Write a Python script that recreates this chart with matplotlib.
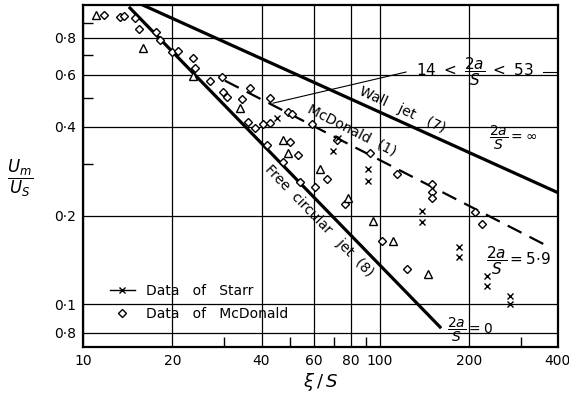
import numpy as np
import matplotlib.pyplot as plt
import matplotlib.transforms as mtransforms
from matplotlib.lines import Line2D

# McDonald's measurements (open diamonds)
mc_x = [11.8, 13.3, 13.8, 15.0, 15.5, 17.6, 18.2, 20.0, 20.9, 23.5, 23.9, 26.8,
        29.4, 29.7, 30.6, 34.4, 36.6, 36.0, 38.0, 42.7, 40.5, 42.7, 49.1, 50.7,
        59.2, 41.7, 49.9, 53.1, 47.3, 53.9, 66.5, 60.6, 71.9, 76.5, 92.9, 114.5,
        150.3, 150.3, 150.3, 102.0, 123.8, 210.0, 221.7]
mc_y = [0.957, 0.942, 0.949, 0.935, 0.858, 0.838, 0.788, 0.717, 0.723, 0.685, 0.633, 0.573,
        0.590, 0.526, 0.506, 0.498, 0.542, 0.416, 0.397, 0.502, 0.407, 0.413, 0.450, 0.440,
        0.410, 0.348, 0.356, 0.322, 0.303, 0.259, 0.265, 0.249, 0.362, 0.218, 0.327, 0.276,
        0.255, 0.241, 0.230, 0.164, 0.132, 0.205, 0.187]

# other runs (open triangles)
tri_x = [11.1, 15.9, 23.5, 33.9, 47.3, 49.1, 63.0, 78.3, 95.1, 111.1, 145.7]
tri_y = [0.957, 0.740, 0.595, 0.464, 0.362, 0.327, 0.287, 0.230, 0.191, 0.164, 0.127]

# Starr's measurements (crosses)
st_x = [45.1, 69.7, 72.5, 91.5, 91.5, 139.1, 139.1, 185.4, 185.4, 230.5, 230.5, 275.5, 275.5]
st_y = [0.429, 0.330, 0.367, 0.287, 0.261, 0.207, 0.190, 0.156, 0.145, 0.125, 0.115, 0.107, 0.100]

# theory lines (straight on log-log, given by end points)
wall_x = [15.9, 400]
wall_y = [1.034, 0.239]
free_x = [14.4, 160]
free_y = [1.01, 0.0838]
mcd_x = [30.1, 376]
mcd_y = [0.573, 0.156]

xticks = [10, 20, 40, 60, 80, 100, 200, 400]
xlabels = ['10', '20', '40', '60', '80', '100', '200', '400']
yticks = [0.8, 0.6, 0.4, 0.2, 0.1, 0.08]
ylabels = ['0·8', '0·6', '0·4', '0·2', '0·1', '0·8']

plt.rcParams['mathtext.fontset'] = 'dejavusans'

fig = plt.figure(figsize=(5.69, 3.94), dpi=100)
ax = fig.add_axes([0.1459, 0.1193, 0.8348, 0.868])
ax.set_xscale('log')
ax.set_yscale('log')
ax.set_xlim(10, 400)
ax.set_ylim(0.0717, 1.034)

ax.set_xticks(xticks)
ax.set_xticklabels(xlabels, fontsize=10)
ax.set_yticks(yticks)
ax.set_yticklabels(ylabels, fontsize=10)
ax.set_xticks([30, 50, 70, 90, 300], minor=True)
ax.set_yticks([0.9, 0.7, 0.5, 0.3], minor=True)
ax.xaxis.set_minor_formatter(plt.NullFormatter())
ax.yaxis.set_minor_formatter(plt.NullFormatter())
ax.tick_params(which='major', length=0, pad=5)
ax.tick_params(which='minor', direction='in', length=7, width=1, color='black')
ax.grid(True, which='major', color='black', lw=0.9)
for s in ax.spines.values():
    s.set_linewidth(1.6)

# keep the last x label inside the figure
last = ax.get_xticklabels()[-1]
last.set_ha('right')
last.set_transform(last.get_transform() + mtransforms.ScaledTranslation(9 / 72, 0, fig.dpi_scale_trans))

# theory curves
ax.plot(wall_x, wall_y, color='black', lw=2.3, zorder=3)
ax.plot(free_x, free_y, color='black', lw=2.3, zorder=3)
ax.plot(mcd_x, mcd_y, color='black', lw=1.6, dashes=(7, 4), zorder=3)

# data
ax.plot(mc_x, mc_y, 'D', ms=4.5, mfc='white', mec='black', mew=1, zorder=4)
ax.plot(tri_x, tri_y, '^', ms=5.5, mfc='white', mec='black', mew=1, zorder=4)
ax.plot(st_x, st_y, 'x', ms=5, color='black', mew=1, zorder=4)

# labels along the lines
ax.text(0.672, 0.693, 'Wall   jet   (7)', transform=ax.transAxes, rotation=-24.5,
        ha='center', va='center', fontsize=10)
ax.text(0.566, 0.635, 'McDonald  (1)', transform=ax.transAxes, rotation=-27,
        ha='center', va='center', fontsize=10)
ax.text(0.497, 0.368, 'Free  circular   jet  (8)', transform=ax.transAxes, rotation=-46,
        ha='center', va='center', fontsize=10)

ax.text(0.825, 0.804, r'$14\ <\ \dfrac{2a}{S}\ <\ 53$', transform=ax.transAxes,
        ha='center', va='center', fontsize=11)
ax.plot([0.400, 0.680], [0.713, 0.804], transform=ax.transAxes, color='black', lw=0.8)
ax.plot([0.968, 1.0], [0.804, 0.804], transform=ax.transAxes, color='black', lw=0.8)
ax.text(0.905, 0.611, r'$\dfrac{2a}{S}=\infty$', transform=ax.transAxes,
        ha='center', va='center', fontsize=10)
ax.text(0.916, 0.254, r'$\dfrac{2a}{S}=5{\cdot}9$', transform=ax.transAxes,
        ha='center', va='center', fontsize=11)
ax.text(0.815, 0.05, r'$\dfrac{2a}{S}=0$', transform=ax.transAxes,
        ha='center', va='center', fontsize=10)

handles = [Line2D([], [], color='black', lw=1, marker='x', ms=5, mew=1),
           Line2D([], [], ls='none', marker='D', ms=4, mfc='white', mec='black')]
ax.legend(handles, ['Data   of   Starr', 'Data   of   McDonald'], loc='upper left',
          bbox_to_anchor=(0.03, 0.22), frameon=False, fontsize=10, handlelength=1.8,
          labelspacing=0.6)

ax.set_xlabel(r'$\xi\,/\,S$', fontsize=13, labelpad=2)
ax.set_ylabel(r'$\dfrac{U_m}{U_S}$', fontsize=12, rotation=0, va='center', ha='center')
ax.yaxis.set_label_coords(-0.133, 0.494)

fig.savefig('out.png', dpi=100)
